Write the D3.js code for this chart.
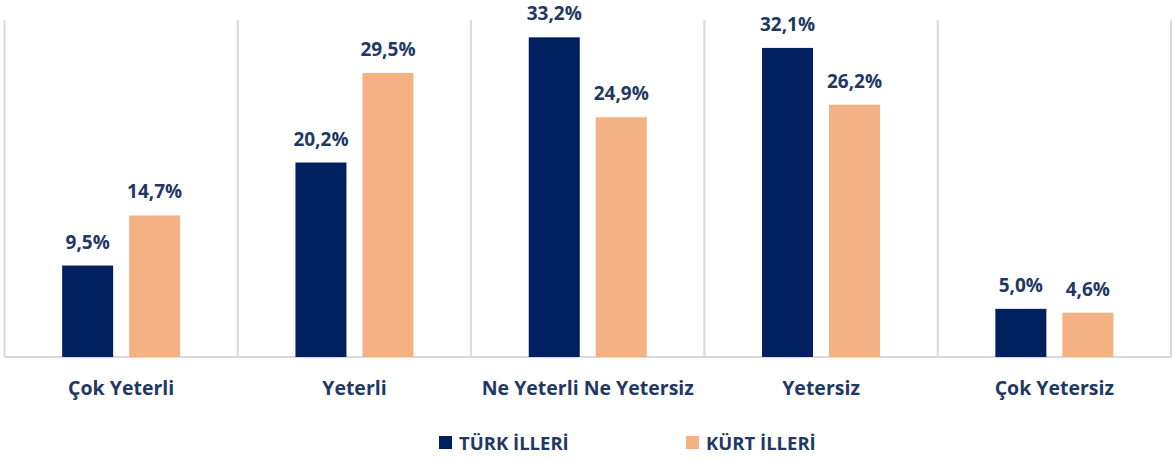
<!DOCTYPE html>
<html><head><meta charset="utf-8">
<script src="https://cdn.jsdelivr.net/npm/d3@7"></script>
<style>body{margin:0;background:#fff}svg{display:block}text{font-family:"Open Sans",sans-serif;font-weight:700}</style>
</head><body><svg id="c" width="1174" height="462"></svg>
<script>
const categories = ["Çok Yeterli","Yeterli","Ne Yeterli Ne Yetersiz","Yetersiz","Çok Yetersiz"];
const seriesNames = ["TÜRK İLLERİ","KÜRT İLLERİ"];
const turkValues = [9.5,20.2,33.2,32.1,5.0];
const kurtValues = [14.7,29.5,24.9,26.2,4.6];
const colors = ["#002060","#F4B183"];
const textColor = "#1F3864";

const svg = d3.select("#c");
const x0 = d3.scaleBand().domain(categories).range([4.5,1171]).paddingInner(0).paddingOuter(0);
const y = d3.scaleLinear().domain([0,35]).range([357,20]);
const bw = 51, gap = 16;

const bounds = categories.map(c=>x0(c)).concat([x0.range()[1]]);
svg.selectAll("line.sep").data(bounds).join("line")
  .attr("x1",d=>d).attr("x2",d=>d).attr("y1",20).attr("y2",357)
  .attr("stroke","#d9d9d9").attr("stroke-width",2);
svg.append("line").attr("x1",4.5).attr("x2",1171).attr("y1",357).attr("y2",357)
  .attr("stroke","#d9d9d9").attr("stroke-width",2);

const series = [turkValues,kurtValues];
series.forEach((vals,si)=>{
  const g = svg.append("g");
  const xOf = i => x0(categories[i]) + x0.bandwidth()/2 + (si===0 ? -(gap/2+bw) : gap/2);
  g.selectAll("rect").data(vals).join("rect")
    .attr("x",(d,i)=>xOf(i)).attr("width",bw)
    .attr("y",d=>y(d)).attr("height",d=>y(0)-y(d)).attr("fill",colors[si]);
  g.selectAll("text").data(vals).join("text")
    .attr("x",(d,i)=>xOf(i)+bw/2).attr("y",d=>y(d)-17)
    .attr("text-anchor","middle").attr("font-size",19).attr("fill",textColor)
    .text(d=>d.toFixed(1).replace(".",",")+"%");
});

svg.selectAll("text.cat").data(categories).join("text")
  .attr("x",d=>x0(d)+x0.bandwidth()/2).attr("y",395)
  .attr("text-anchor","middle").attr("font-size",19.5).attr("fill",textColor).text(d=>d);

const legX = [439,686];
seriesNames.forEach((n,i)=>{
  svg.append("rect").attr("x",legX[i]).attr("y",436).attr("width",13).attr("height",13).attr("fill",colors[i]);
  svg.append("text").attr("x",legX[i]+20).attr("y",449.5).attr("font-size",18.5).attr("fill",textColor).text(n);
});
</script></body></html>
